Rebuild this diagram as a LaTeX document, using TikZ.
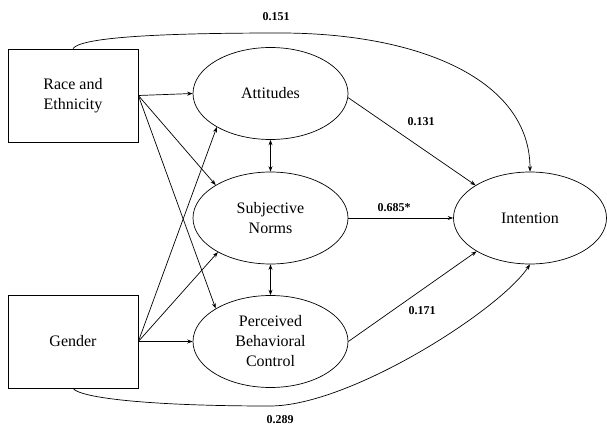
\documentclass[tikz,border=0pt]{standalone}
\usepackage{fontspec}
\setmainfont{Liberation Serif}
\usetikzlibrary{shapes.geometric,arrows.meta}
\begin{document}
\begin{tikzpicture}[x=1pt,y=-1pt,
  conn/.style={line width=0.7pt,-{Stealth[length=5.5pt,width=4pt]}},
  dconn/.style={line width=0.7pt,{Stealth[length=5.5pt,width=4pt]}-{Stealth[length=5.5pt,width=4pt]}},
  obs/.style={draw,line width=0.7pt,minimum width=130pt,minimum height=93pt,inner sep=0pt,align=center,font=\fontsize{16}{20}\selectfont},
  lat/.style={draw,ellipse,line width=0.7pt,minimum width=155pt,minimum height=92pt,inner sep=0pt,align=center,font=\fontsize{16}{20}\selectfont},
  coef/.style={font=\fontsize{12}{14}\selectfont\bfseries}]
\useasboundingbox (0,0) rectangle (607,425);
\node[obs] (race) at (73,95.5) {Race and\\Ethnicity};
\node[obs] (gender) at (73,341.5) {Gender};
\node[lat] (att) at (270.5,93.5) {Attitudes};
\node[lat] (sn) at (270.5,218) {Subjective\\Norms};
\node[lat] (pbc) at (270.5,341.5) {Perceived\\Behavioral\\Control};
\node[lat,minimum width=153pt] (int) at (530,218) {Intention};
\draw[conn] (race.east) -- (att.west);
\draw[conn] (race.east) -- (sn.149);
\draw[conn] (race.east) -- (pbc.149);
\draw[conn] (gender.east) -- (att.212);
\draw[conn] (gender.east) -- (sn.213);
\draw[conn] (gender.east) -- (pbc.west);
\draw[dconn] (att.south) -- (sn.north);
\draw[dconn] (sn.south) -- (pbc.north);
\draw[conn] (att.-3) -- (int.149);
\draw[conn] (sn.east) -- (int.west);
\draw[conn] (pbc.east) -- (int.212);
\draw[conn] (race.north) .. controls (80,38) and (150,33) .. (280,33) .. controls (420,33) and (530,80) .. (int.north);
\draw[conn] (gender.south) .. controls (80,398) and (150,406) .. (270,406) .. controls (350,406) and (500,310) .. (int.south);
\node[coef] (l151) at (276,17) {0.151};
\node[coef] (l289) at (280,420) {0.289};
\node[coef] (l131) at (421,122) {0.131};
\node[coef] (l685) at (394,208) {0.685*};
\node[coef] (l171) at (422,311) {0.171};
\end{tikzpicture}
\end{document}
